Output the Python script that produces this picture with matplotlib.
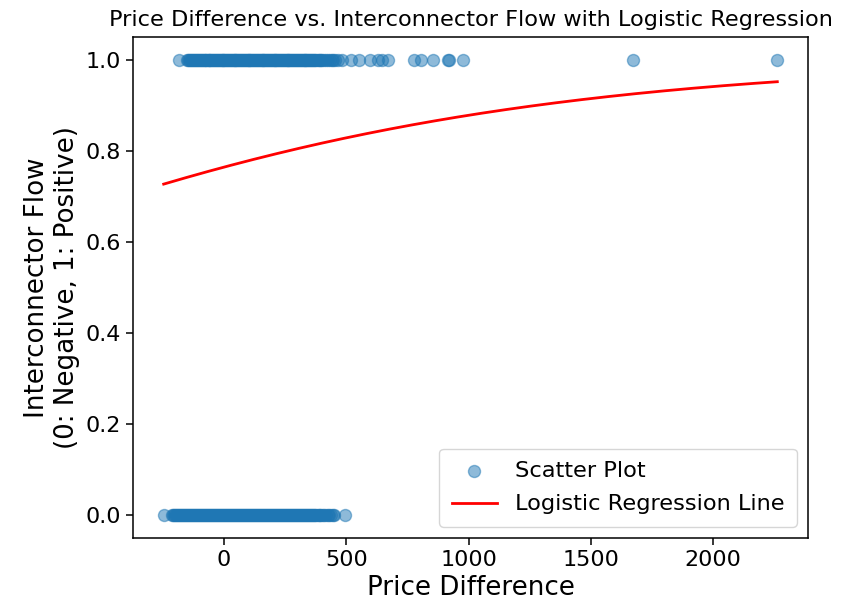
import numpy as np
import matplotlib
matplotlib.use("Agg")
import matplotlib.pyplot as plt

# price differences for hours with positive flow (y = 1)
flow_pos_x = [
    -184, -152, -145, -141, -137, -133, -129, -126, -122, -118, -113, -109, -105,
    -101, -97, -94, -90, -86, -82, -79, -75, -71, -66, -62, -59, -55, -51, -47,
    -43, -40, -35, -31, -28, -24, -20, -16, -12, -9, -5, -2, 2, 5, 9, 13, 17,
    21, 24, 28, 32, 36, 40, 44, 47, 51, 55, 59, 63, 66, 70, 74, 78, 82, 86, 89,
    93, 97, 101, 104, 108, 112, 116, 119, 123, 127, 131, 135, 139, 142, 146,
    150, 154, 158, 161, 165, 169, 173, 177, 181, 184, 188, 192, 196, 200, 203,
    207, 211, 215, 219, 222, 226, 230, 234, 238, 241, 245, 249, 253, 257, 261,
    264, 268, 272, 276, 280, 283, 287, 291, 295, 299, 302, 306, 310, 314, 318,
    322, 326, 330, 333, 337, 341, 345, 349, 353, 358, 362, 366, 370, 374, 378,
    383, 387, 391, 396, 403, 410, 418, 425, 432, 440, 447, 455, 468, 481,
    520, 553, 598, 631, 647, 672, 779, 807, 856, 914, 922, 979, 1672, 2262,
]

# price differences for hours with negative flow (y = 0)
flow_neg_x = [
    -246, -214, -209, -203, -199, -195, -190, -186, -182, -178, -174, -170, -166,
    -161, -157, -153, -150, -146, -141, -137, -133, -129, -125, -121, -117, -113,
    -108, -104, -100, -97, -92, -88, -84, -80, -76, -72, -68, -64, -60, -57, -52,
    -48, -44, -40, -36, -31, -28, -24, -19, -15, -11, -7, -3, 1, 5, 9, 13, 17,
    21, 26, 29, 33, 37, 42, 46, 50, 54, 58, 62, 66, 70, 74, 79, 83, 87, 90, 95,
    99, 103, 107, 111, 115, 119, 123, 127, 131, 135, 140, 143, 147, 152, 156,
    160, 164, 168, 172, 176, 180, 184, 188, 192, 197, 200, 204, 209, 213, 217,
    221, 225, 229, 233, 237, 241, 245, 249, 254, 257, 261, 265, 270, 274, 278,
    282, 286, 290, 294, 298, 302, 306, 311, 314, 318, 322, 327, 331, 335, 339,
    343, 347, 352, 356, 360, 364, 369, 373, 378, 383, 388, 393, 399, 405, 411,
    417, 424, 431, 438, 444, 451, 496,
]

# fitted logistic regression coefficients
intercept = 1.176
coef = 0.000799

X = np.array(flow_pos_x + flow_neg_x, dtype=float)
y = np.array([1] * len(flow_pos_x) + [0] * len(flow_neg_x))

x_line = np.linspace(X.min(), X.max(), 300)
y_line = 1 / (1 + np.exp(-(intercept + coef * x_line)))

fig = plt.figure(figsize=(8.56, 6.08), dpi=100)
ax = fig.add_axes([133 / 856, 70 / 608, 675 / 856, 501 / 608])

ax.scatter(X, y, s=75, alpha=0.5, label="Scatter Plot")
ax.plot(x_line, y_line, color="red", lw=2, label="Logistic Regression Line")

ax.set_title("Price Difference vs. Interconnector Flow with Logistic Regression",
             fontsize=16.1, pad=8)
ax.set_xlabel("Price Difference", fontsize=18.8)
ax.set_ylabel("Interconnector Flow\n(0: Negative, 1: Positive)", fontsize=18.8)
ax.tick_params(labelsize=16, length=5, width=1.1)
for s in ax.spines.values():
    s.set_linewidth(1.1)
ax.legend(loc="lower right", fontsize=16.2, handlelength=2.0,
          labelspacing=0.6, borderpad=0.55)

fig.savefig("out.png", dpi=100)
